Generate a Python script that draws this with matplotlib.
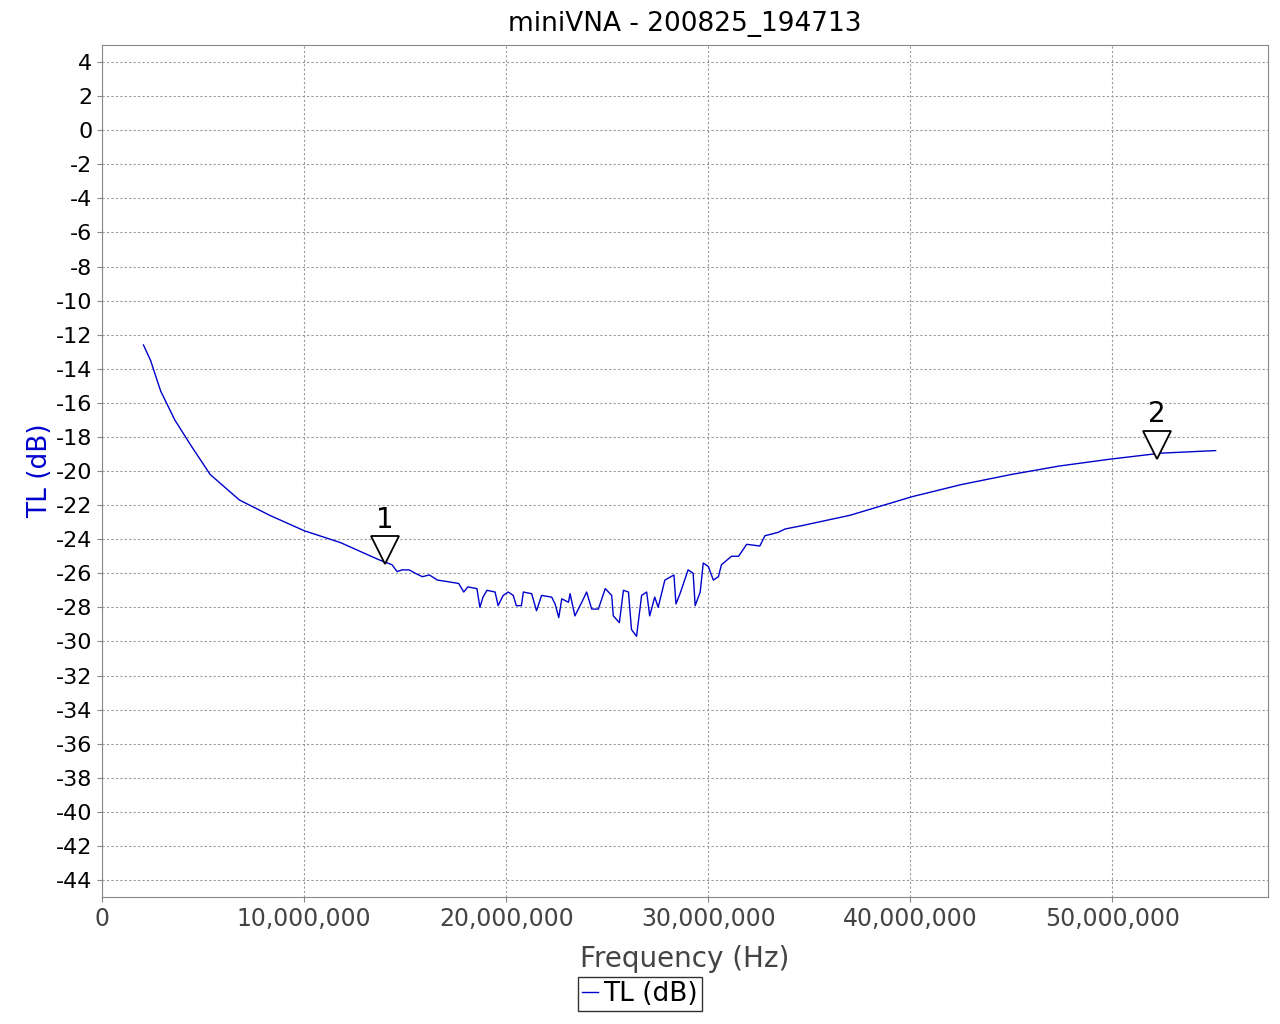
import matplotlib
matplotlib.use("Agg")
import matplotlib.pyplot as plt
from matplotlib.ticker import FuncFormatter, MultipleLocator
import numpy as np

freq_mhz = [2.05, 2.4, 2.9, 3.6, 4.4, 5.35, 6.8, 8.3, 10.0, 11.8, 13.69, 14.35, 14.6, 14.85, 15.2, 15.5, 15.85, 16.2, 16.6,
            17.15, 17.65, 17.9, 18.1, 18.55, 18.7, 18.85, 19.05, 19.45, 19.6, 19.85, 20.1, 20.35, 20.5, 20.75, 20.85,
            21.26, 21.5, 21.75, 22.25, 22.42, 22.6, 22.75, 23.08, 23.16, 23.4, 23.74, 23.98, 24.23, 24.56, 24.9,
            25.22, 25.3, 25.6, 25.8, 26.05, 26.2, 26.45, 26.7, 26.95, 27.1, 27.35, 27.52, 27.85, 28.3, 28.4, 28.6,
            29.0, 29.25, 29.35, 29.6, 29.75, 30.0, 30.25, 30.5, 30.65, 31.15, 31.5, 31.9, 32.55, 32.8, 33.45, 33.8,
            34.45, 37.0, 40.1, 42.5, 45.0, 47.4, 49.9, 52.4, 55.1]
tl_db = [-12.6, -13.5, -15.3, -17.0, -18.5, -20.2, -21.7, -22.6, -23.5, -24.2, -25.2, -25.5, -25.9, -25.8, -25.8, -26.0, -26.2,
         -26.1, -26.4, -26.5, -26.6, -27.1, -26.8, -26.9, -28.0, -27.4, -27.0, -27.1, -27.9, -27.3, -27.1, -27.3,
         -27.9, -27.9, -27.1, -27.2, -28.2, -27.3, -27.4, -27.8, -28.6, -27.5, -27.7, -27.2, -28.5, -27.7, -27.1,
         -28.1, -28.1, -26.9, -27.3, -28.5, -28.9, -27.0, -27.1, -29.3, -29.7, -27.3, -27.1, -28.5, -27.4, -28.0,
         -26.4, -26.1, -27.8, -27.2, -25.8, -26.0, -27.9, -27.1, -25.4, -25.6, -26.4, -26.2, -25.5, -25.0, -25.0,
         -24.3, -24.4, -23.8, -23.6, -23.4, -23.25, -22.6, -21.5, -20.8, -20.2, -19.7, -19.3, -18.95, -18.8]
markers_mhz = [14.0, 52.2]
markers_db = [-25.2, -19.0]
marker_labels = ["1", "2"]
y_ticks = list(range(4, -45, -2))

fig = plt.figure(figsize=(12.8, 10.24), dpi=100)
ax = fig.add_axes([0.0797, 0.124, 0.911, 0.832])
f = np.array(freq_mhz) * 1e6
ax.plot(f, tl_db, color="#0000cc", lw=1, label="TL (dB)")
for m, d, lab in zip(markers_mhz, markers_db, marker_labels):
    ax.plot(m * 1e6, d + 0.55, marker="v", ms=20, mfc="white", mec="black", mew=1.3, ls="none")
    ax.text(m * 1e6, d + 1.5, lab, ha="center", va="bottom", fontsize=20)
ax.set_xlim(0, 57.7e6)
ax.set_ylim(-45, 5)
ax.set_yticks(y_ticks)
ax.set_yticklabels([str(t) for t in y_ticks])
ax.xaxis.set_major_locator(MultipleLocator(10e6))
ax.xaxis.set_major_formatter(FuncFormatter(lambda v, p: f"{int(v):,}"))
ax.tick_params(axis="x", labelsize=17, labelcolor="#444444", colors="#888888")
ax.tick_params(axis="y", labelcolor="black", labelsize=16, colors="#888888")
ax.grid(True, ls=(0, (2, 2)), color="#999999", lw=0.8)
for s in ax.spines.values():
    s.set_color("#888888")
ax.set_title("miniVNA - 200825_194713", fontsize=19, pad=10)
ax.set_xlabel("Frequency (Hz)", fontsize=20, color="#444444", labelpad=10)
ax.set_ylabel("TL (dB)", fontsize=19, color="#0000cc", labelpad=2)
fig.legend(loc="lower center", bbox_to_anchor=(0.5, 0.0), fontsize=19, frameon=True, fancybox=False,
           edgecolor="black", handlelength=0.6, handletextpad=0.2, borderpad=0.15)
fig.savefig("out.png", dpi=100)
